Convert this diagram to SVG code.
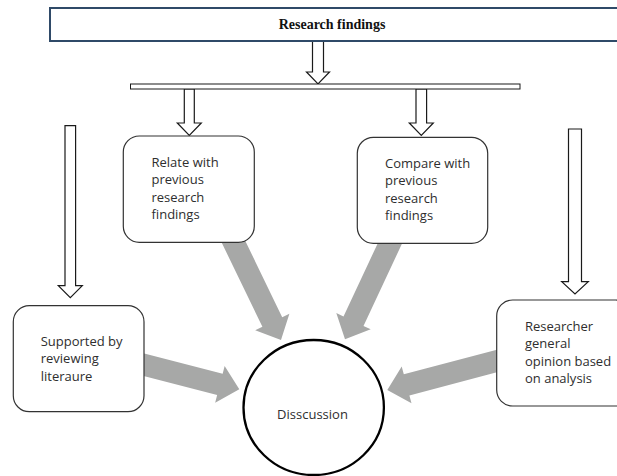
<svg xmlns="http://www.w3.org/2000/svg" width="617" height="476" viewBox="0 0 617 476">
  <style>
    .box { fill: #ffffff; stroke: #333333; stroke-width: 1.2; }
    .label { font-family: "Open Sans", "Noto Sans", "Liberation Sans", sans-serif; font-size: 13px; fill: #2e2e2e; }
    .title { font-family: "Liberation Serif", "Times New Roman", serif; font-size: 14px; font-weight: bold; fill: #111111; }
    .block { fill: #ffffff; stroke: #1a1a1a; stroke-width: 1.2; stroke-linejoin: miter; }
    .flow { fill: #a7a8a7; stroke: none; }
  </style>

  <!-- connectors: outlined block arrows and grey flow arrows -->
  <g id="connectors">
    <!-- grey arrows into the discussion circle (drawn first, boxes cover their tails) -->
    <polygon class="flow" points="217.9,234.8 262.4,326.8 255.2,330.3 281,340 289.4,313.7 282.2,317.2 237.7,225.2"/>
    <polygon class="flow" points="385.9,225.9 343.5,316.5 336.3,313.1 345,339.3 370.7,329.3 363.5,325.9 405.9,235.3"/>
    <polygon class="flow" points="130.05,372.45 217.15,394.95 215.15,402.7 239.3,389.3 224.65,365.9 222.65,373.65 135.55,351.15"/>
    <polygon class="flow" points="505.4,347.4 403.8,374.3 401.7,366.5 387.3,390 411.5,403.3 409.4,395.5 511,368.6"/>

    <!-- outlined downward block arrows -->
    <path class="block" d="M312.5,41 V72 H306.5 L318,84 L329.5,72 H323.5 V41 Z"/>
    <path class="block" d="M184.3,89 V123 H177.3 L189.3,135.5 L201.3,123 H194.3 V89 Z"/>
    <path class="block" d="M416,89 V123 H409.3 L421.3,135.5 L433.3,123 H426.6 V89 Z"/>
    <path class="block" d="M65,125.7 V285.7 H58.3 L70.3,297.7 L82.3,285.7 H75.6 V125.7 Z"/>
    <path class="block" d="M568.5,129 V281.7 H561.7 L575,294 L588.3,281.7 H581.5 V129 Z"/>
  </g>

  <g id="research-findings">
    <rect x="50" y="8" width="580" height="33" fill="#ffffff" stroke="#2f4a68" stroke-width="2"/>
    <text class="title" x="332" y="28.5" text-anchor="middle">Research findings</text>
  </g>

  <g id="split-bar">
    <rect x="130.5" y="84" width="389.5" height="5" fill="#ffffff" stroke="#1a1a1a" stroke-width="1"/>
  </g>

  <g id="relate">
    <rect class="box" x="123.3" y="136" width="131" height="106.3" rx="16"/>
    <text class="label" x="151.5">
      <tspan x="151.5" y="166.7">Relate with</tspan>
      <tspan x="151.5" y="184.3">previous</tspan>
      <tspan x="151.5" y="201.8">research</tspan>
      <tspan x="151.5" y="219.3">findings</tspan>
    </text>
  </g>

  <g id="compare">
    <rect class="box" x="357.3" y="137.3" width="130.4" height="106" rx="16"/>
    <text class="label" x="385">
      <tspan x="385" y="167.7">Compare with</tspan>
      <tspan x="385" y="185.2">previous</tspan>
      <tspan x="385" y="202.7">research</tspan>
      <tspan x="385" y="220.2">findings</tspan>
    </text>
  </g>

  <g id="supported">
    <rect class="box" x="13.3" y="305.7" width="130.7" height="106" rx="16"/>
    <text class="label" x="40.7">
      <tspan x="40.7" y="346">Supported by</tspan>
      <tspan x="40.7" y="363.4">reviewing</tspan>
      <tspan x="40.7" y="380.8">literaure</tspan>
    </text>
  </g>

  <g id="researcher">
    <rect class="box" x="496.7" y="300" width="135" height="106" rx="16"/>
    <text class="label" x="525">
      <tspan x="525" y="330.7">Researcher</tspan>
      <tspan x="525" y="348.2">general</tspan>
      <tspan x="525" y="365.7">opinion based</tspan>
      <tspan x="525" y="383.2">on analysis</tspan>
    </text>
  </g>

  <g id="discussion">
    <ellipse cx="313.7" cy="407.5" rx="70.2" ry="67.5" fill="#ffffff" stroke="#000000" stroke-width="2.3"/>
    <text class="label" x="312.5" y="419" text-anchor="middle">Disscussion</text>
  </g>
</svg>
